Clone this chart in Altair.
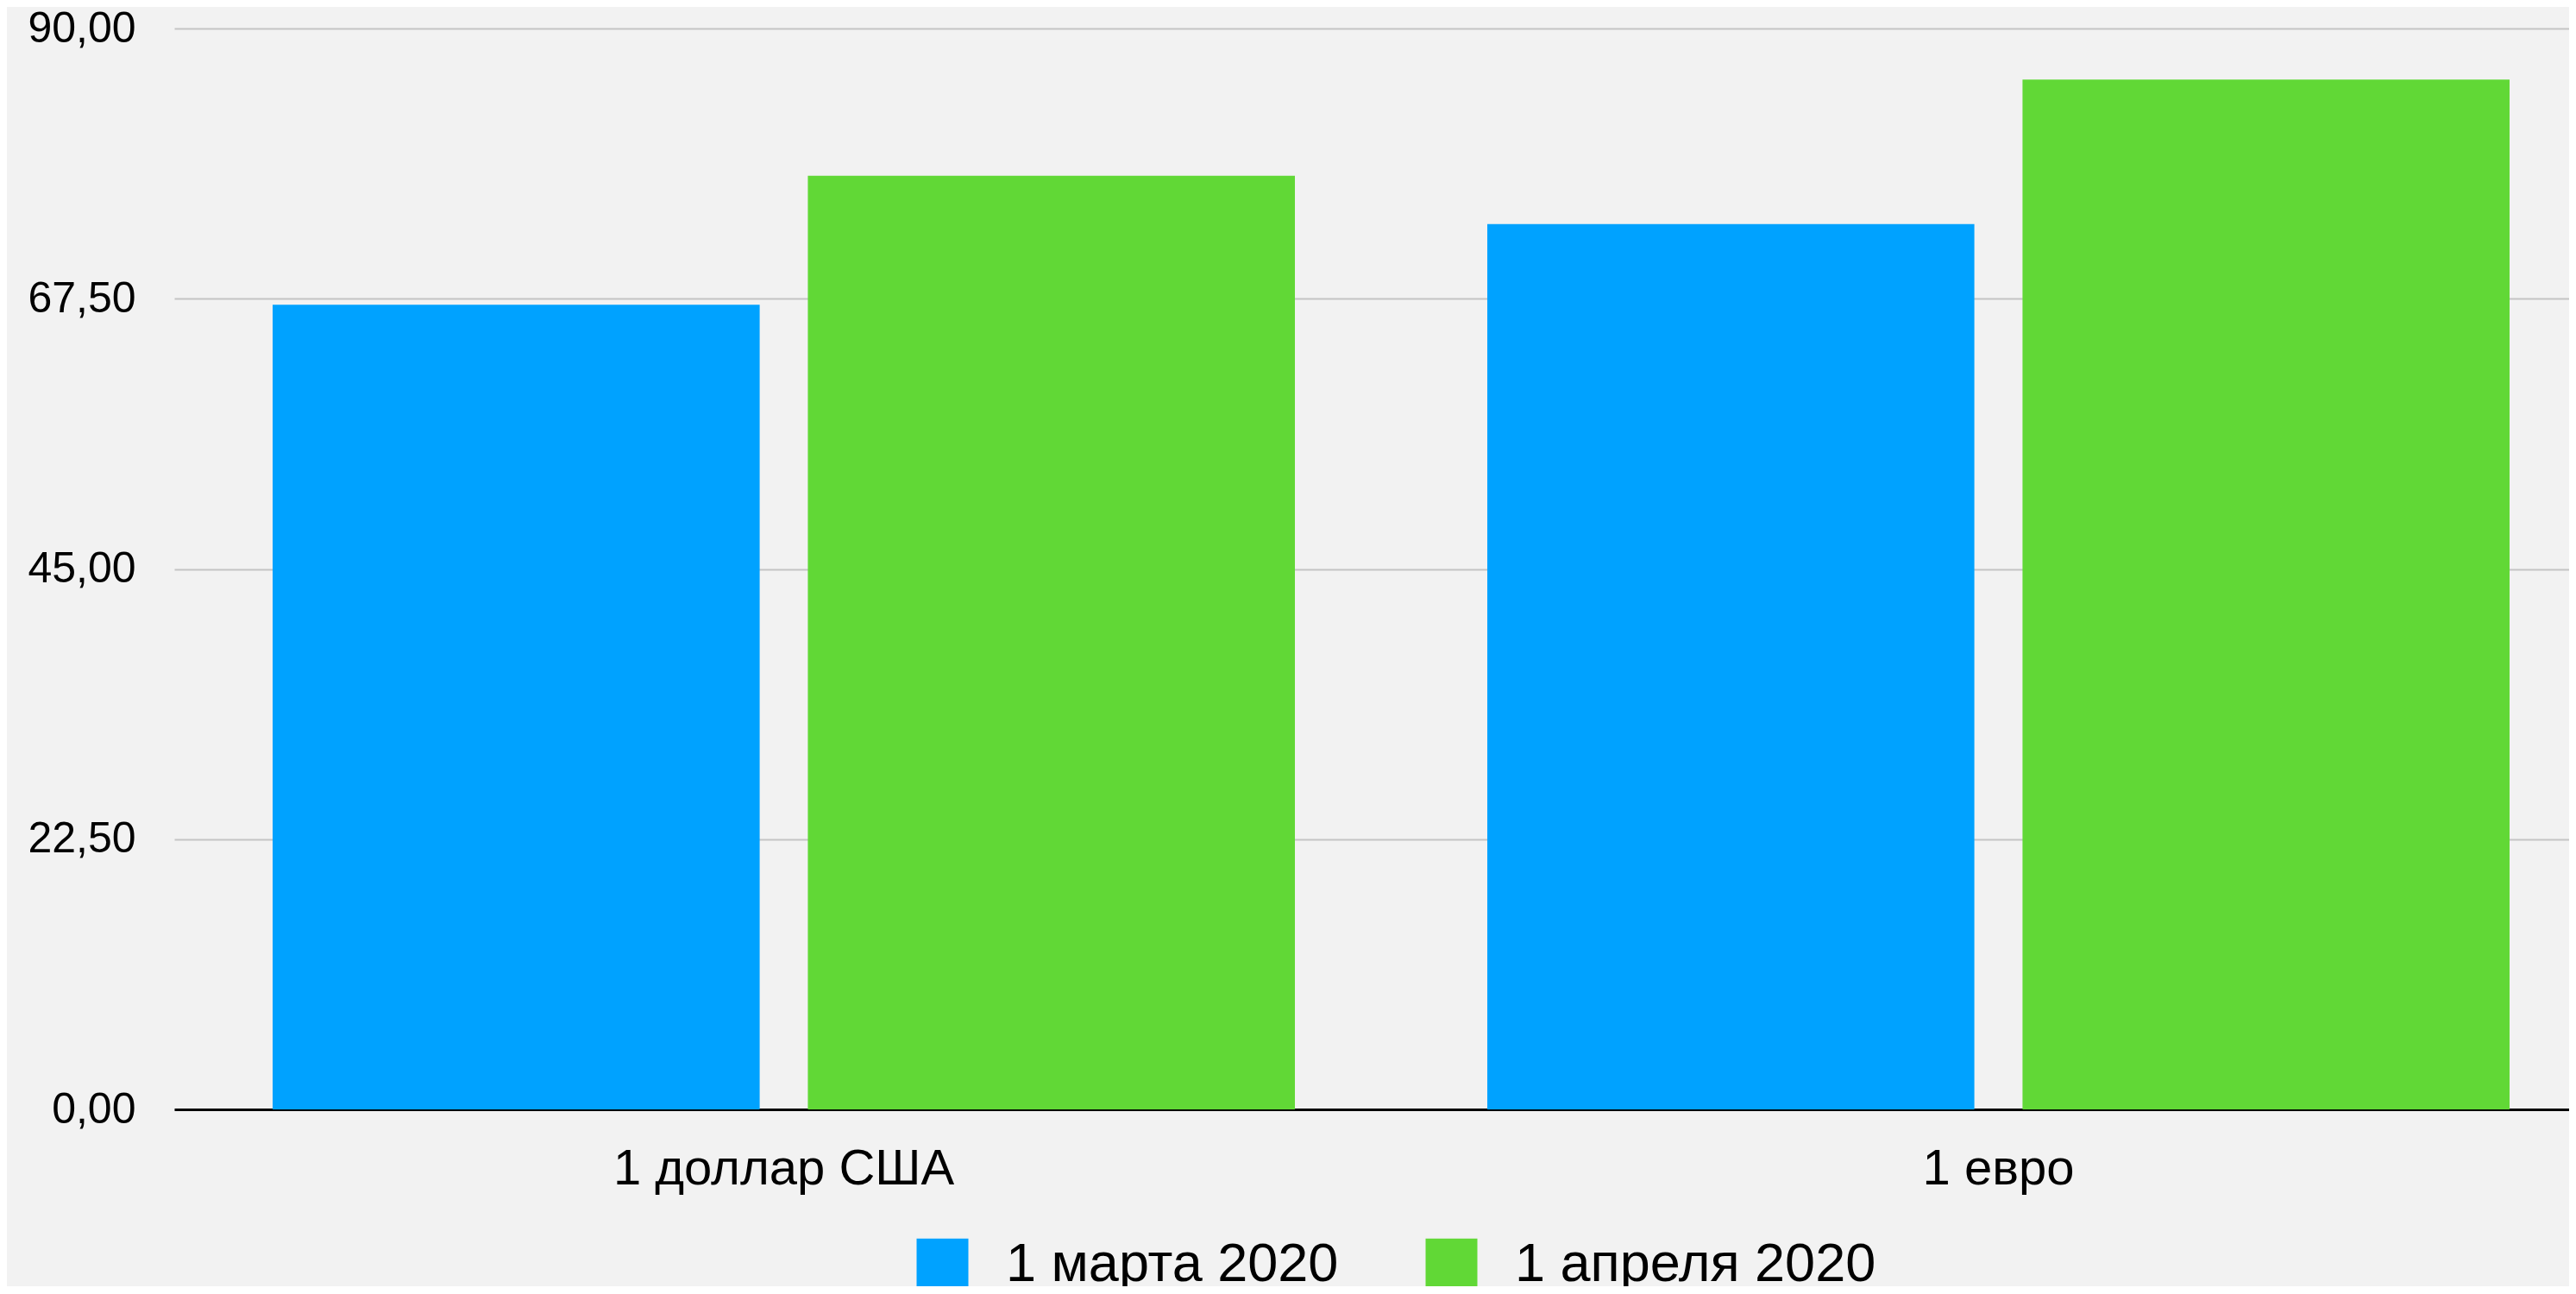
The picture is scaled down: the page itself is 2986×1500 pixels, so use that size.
import altair as alt
import pandas as pd

categories = ["1 доллар США", "1 евро"]
series = ["1 марта 2020", "1 апреля 2020"]
march_values = [66.99, 73.72]
april_values = [77.73, 85.75]
y_ticks = [0, 22.5, 45, 67.5, 90]
colors = ["#00A2FF", "#61D836"]

rows = []
for c, v in zip(categories, march_values):
    rows.append({"category": c, "series": series[0], "value": v})
for c, v in zip(categories, april_values):
    rows.append({"category": c, "series": series[1], "value": v})
df = pd.DataFrame(rows)

FONT = "Liberation Sans"

chart = alt.Chart(df).mark_bar().encode(
    x=alt.X(
        "category:N",
        sort=categories,
        scale=alt.Scale(paddingInner=0.1584, paddingOuter=0.065, align=0.623),
        axis=alt.Axis(
            title=None,
            labelAngle=0,
            labelFontSize=58,
            labelFont=FONT,
            labelColor="black",
            labelLimit=0,
            labelPadding=40,
            ticks=False,
            tickSize=0,
            domainColor="black",
            domainWidth=3,
        ),
    ),
    xOffset=alt.XOffset(
        "series:N", sort=series, scale=alt.Scale(paddingInner=0.09, paddingOuter=0)
    ),
    y=alt.Y(
        "value:Q",
        scale=alt.Scale(domain=[0, 90], nice=False),
        axis=alt.Axis(
            title=None,
            values=y_ticks,
            labelExpr="replace(format(datum.value, '.2f'), '.', ',')",
            domain=False,
            ticks=False,
            tickSize=0,
            labelPadding=45,
            labelFontSize=50,
            labelFont=FONT,
            labelColor="black",
            labelLimit=0,
            gridColor="#c4c4c4",
            gridWidth=2,
        ),
    ),
    color=alt.Color(
        "series:N",
        sort=series,
        scale=alt.Scale(domain=series, range=colors),
        legend=alt.Legend(
            orient="none",
            legendX=859,
            legendY=1401,
            direction="horizontal",
            title=None,
            symbolType="square",
            symbolSize=3600,
            symbolStrokeWidth=0,
            symbolOpacity=1,
            labelFontSize=63,
            labelFont=FONT,
            labelColor="black",
            labelLimit=0,
            labelOffset=42,
            columnPadding=99,
        ),
    ),
).properties(
    width=2776,
    height=1253,
    autosize="none",
    padding={"left": 194, "top": 25, "right": 0, "bottom": 205},
    background="#f2f2f2",
).configure_view(stroke=None)

chart.save("out.html", embed_options={"renderer": "svg", "actions": False})
